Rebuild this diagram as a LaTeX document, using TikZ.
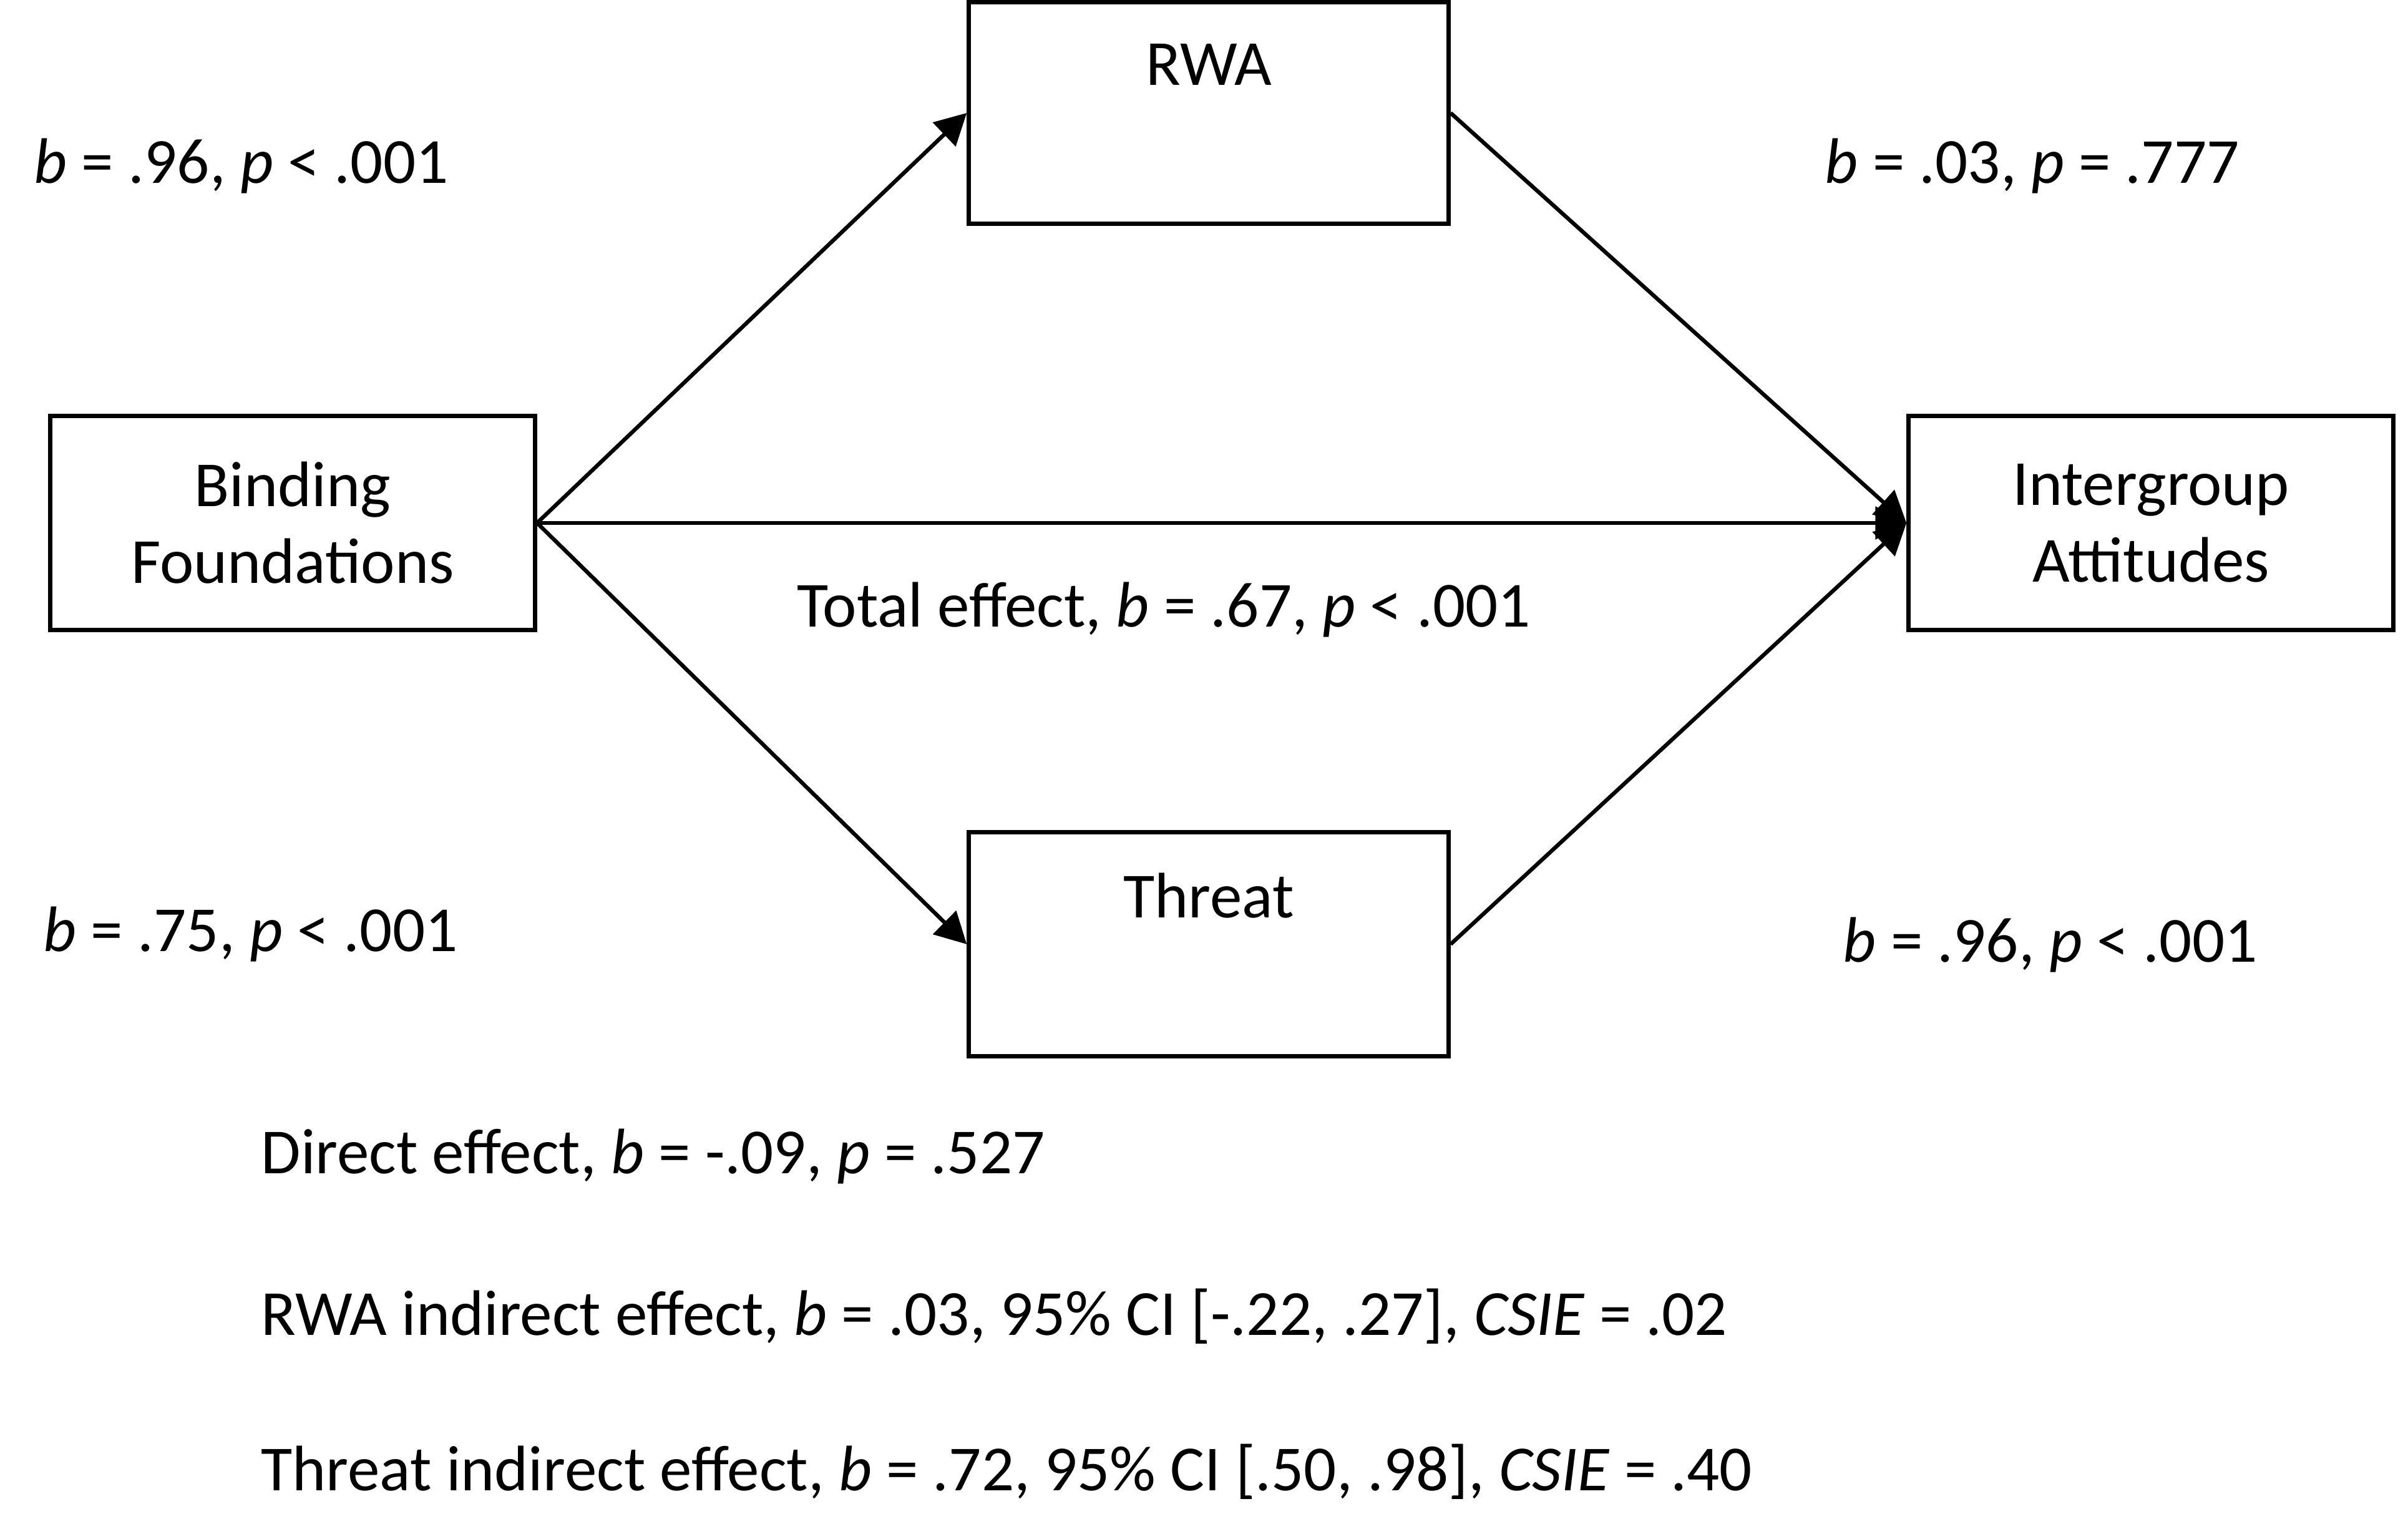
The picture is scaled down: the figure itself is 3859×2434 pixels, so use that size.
\documentclass[tikz,border=0pt]{standalone}
\usepackage{fontspec}
\setmainfont{Carlito}
\usetikzlibrary{arrows.meta}
\begin{document}
\begin{tikzpicture}[x=0.01cm,y=-0.01cm,
  box/.style={draw,line width=2pt,inner sep=0pt,align=center,
    font=\fontsize{29.3}{35}\selectfont},
  lbl/.style={font=\fontsize{29.3}{35}\selectfont,inner sep=0pt,anchor=west},
  conn/.style={line width=1.8pt,-{Triangle[length=0.5cm,width=0.52cm]}}]
\useasboundingbox (0,0) rectangle (3859,2434);
\fill[white] (0,0) rectangle (3859,2434);
% boxes
\node[box,minimum width=7.76cm,minimum height=3.42cm] (bf) at (469,838) {Binding\\Foundations};
\node[box,minimum width=7.68cm,minimum height=3.55cm] (rwa) at (1937,181) {};
\node[box,minimum width=7.68cm,minimum height=3.59cm] (thr) at (1937,1513) {};
\node[box,minimum width=7.76cm,minimum height=3.42cm] (ia) at (3447,838) {Intergroup\\Attitudes};
\node[lbl,anchor=center] (rwat) at (1937,103) {RWA};
\node[lbl,anchor=center] (thrt) at (1937,1435) {Threat};
% connectors
\draw[conn] (bf.east) -- (rwa.west);
\draw[conn] (bf.east) -- (thr.west);
\draw[conn] (bf.east) -- (ia.west);
\draw[conn] (rwa.east) -- (ia.west);
\draw[conn] (thr.east) -- (ia.west);
% labels
\node[lbl] (l1) at (54,266) {\textit{b} = .96, \textit{p} < .001};
\node[lbl] (l2) at (2924,266) {\textit{b} = .03, \textit{p} = .777};
\node[lbl] (l3) at (1277,977) {Total effect, \textit{b} = .67, \textit{p} < .001};
\node[lbl] (l4) at (69,1497) {\textit{b} = .75, \textit{p} < .001};
\node[lbl] (l5) at (2953,1514) {\textit{b} = .96, \textit{p} < .001};
\node[lbl] (l6) at (418,1853) {Direct effect, \textit{b} = -.09, \textit{p} = .527};
\node[lbl] (l7) at (418,2109) {RWA indirect effect, \textit{b} = .03, 95\% CI [-.22, .27], \textit{CSIE} = .02};
\node[lbl] (l8) at (418,2358) {Threat indirect effect, \textit{b} = .72, 95\% CI [.50, .98], \textit{CSIE} = .40};
\end{tikzpicture}
\end{document}
